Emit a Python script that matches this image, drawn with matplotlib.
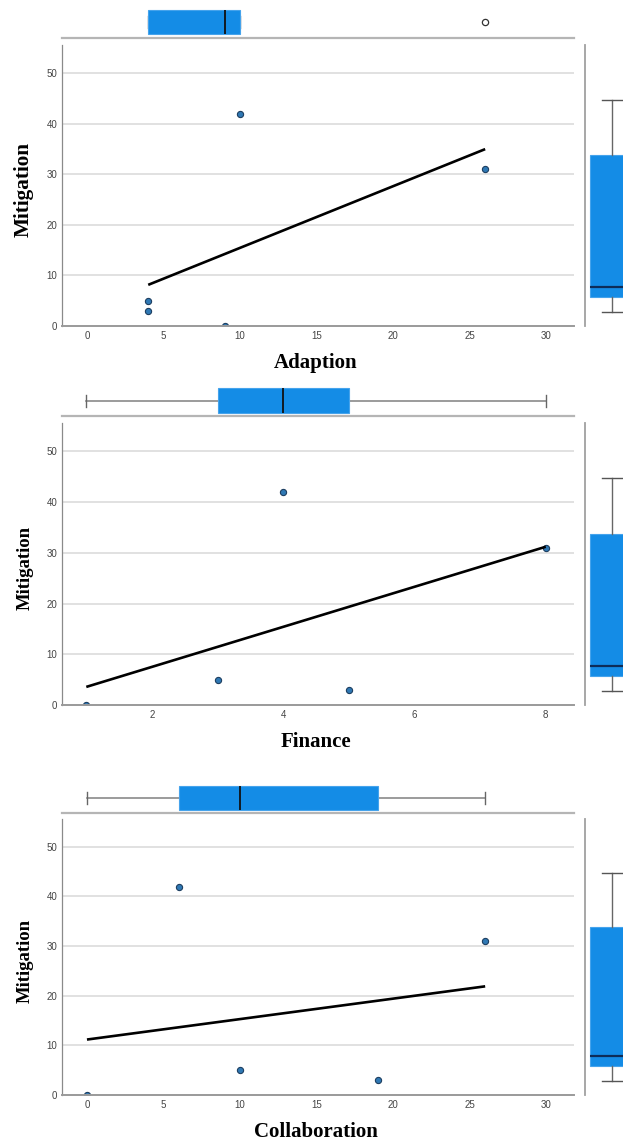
import numpy as np
import matplotlib
matplotlib.use("Agg")
import matplotlib.pyplot as plt

# ---- data (one row per observation) ----
mitigation = [0, 3, 5, 42, 31]
adaption = [9, 4, 4, 10, 26]
finance = [1, 5, 3, 4, 8]
collaboration = [0, 19, 10, 6, 26]

predictors = ["Adaption", "Finance", "Collaboration"]
predictor_values = [adaption, finance, collaboration]
x_ticks = [[0, 5, 10, 15, 20, 25, 30], [2, 4, 6, 8], [0, 5, 10, 15, 20, 25, 30]]
y_ticks = [0, 10, 20, 30, 40, 50]

# ---- layout (pixels) ----
W, H = 623, 1140
fig = plt.figure(figsize=(W / 100, H / 100), dpi=100)


def px_axes(left, top, right, bottom):
    return fig.add_axes([left / W, 1 - bottom / H, (right - left) / W, (bottom - top) / H])


panels = [
    dict(sc=(62, 45, 574, 326), top=(62, 7, 574, 37.5), right=(585, 45, 645, 326),
         xlim=(-1.63, 31.8), ylfs=15.3, boxh=24),
    dict(sc=(62, 423, 574, 705), top=(62, 385, 574, 416), right=(585, 423, 645, 705),
         xlim=(0.63, 8.43), ylfs=13.5, boxh=25),
    dict(sc=(62, 819, 574, 1095), top=(62, 782, 574, 813), right=(585, 819, 645, 1095),
         xlim=(-1.63, 31.8), ylfs=13.5, boxh=24),
]

BOX_BLUE = "#148ce6"
GRID = "#d9d9d9"
SPINE = "#9a9a9a"
serif = ["Liberation Serif", "DejaVu Serif"]
sans = ["Liberation Sans", "DejaVu Sans"]

for p, name, xv, xt in zip(panels, predictors, predictor_values, x_ticks):
    # scatter axes
    ax = px_axes(*p["sc"])
    ax.set_xlim(*p["xlim"])
    ax.set_ylim(0, 55.6)
    for y in y_ticks[1:]:
        ax.axhline(y, color=GRID, lw=1.1, zorder=0)
    ax.scatter(xv, mitigation, s=20, facecolor="#2f78b4", edgecolor="#1d3e60",
               linewidth=0.8, zorder=3)
    coef = np.polyfit(xv, mitigation, 1)
    xs = np.array([min(xv), max(xv)])
    ax.plot(xs, np.polyval(coef, xs), color="black", lw=1.9, zorder=4,
            solid_capstyle="butt")
    ax.set_xticks(xt)
    ax.set_yticks(y_ticks)
    ax.tick_params(length=0, labelsize=7, labelcolor="#444444", pad=3.5)
    for lab in ax.get_xticklabels() + ax.get_yticklabels():
        lab.set_family(sans)
    for s in ["top", "right"]:
        ax.spines[s].set_visible(False)
    ax.spines["left"].set_color("#8a8a8a")
    ax.spines["left"].set_linewidth(0.9)
    ax.spines["bottom"].set_color(SPINE)
    ax.spines["bottom"].set_linewidth(1.4)
    ax.spines["bottom"].set_zorder(5)
    h = p["sc"][3] - p["sc"][1]
    ax.set_xlabel(name, fontsize=15, fontweight="bold", family=serif, color="black")
    ax.xaxis.set_label_coords((316 - 62) / 512, -27 / h)
    ax.set_ylabel("Mitigation", fontsize=p["ylfs"], fontweight="bold", family=serif,
                  color="black")
    ax.yaxis.set_label_coords((34 - 62) / 512, 0.5 - 4 / h)

    # top box plot (predictor)
    axt = px_axes(*p["top"])
    th = p["top"][3] - p["top"][1]
    axt.set_xlim(*p["xlim"])
    axt.set_ylim(-th / 2, th / 2)
    axt.boxplot(xv, orientation="horizontal", positions=[0], widths=p["boxh"],
                capwidths=12, patch_artist=True,
                boxprops=dict(facecolor=BOX_BLUE, edgecolor="#45a3ec", linewidth=0.8),
                medianprops=dict(color="#111111", linewidth=1.3),
                whiskerprops=dict(color="#8a8a8a", linewidth=1.2, zorder=1),
                capprops=dict(color="#666666", linewidth=1.0, zorder=1),
                flierprops=dict(marker="o", markerfacecolor="white",
                                markeredgecolor="#333333", markersize=4.5,
                                markeredgewidth=0.9))
    axt.set_xticks([])
    axt.set_yticks([])
    for s in ["top", "right", "left"]:
        axt.spines[s].set_visible(False)
    axt.spines["bottom"].set_color("#b5b5b5")
    axt.spines["bottom"].set_linewidth(1.6)
    axt.patch.set_alpha(0)

    # right box plot (mitigation)
    axr = px_axes(*p["right"])
    axr.set_xlim(-27, 33)
    axr.set_ylim(-2.77, 52.8)
    axr.boxplot(mitigation, positions=[0], widths=44, capwidths=20, patch_artist=True,
                boxprops=dict(facecolor=BOX_BLUE, edgecolor="#45a3ec", linewidth=0.8),
                medianprops=dict(color="#0d2c58", linewidth=1.6),
                whiskerprops=dict(color="#666666", linewidth=1.0),
                capprops=dict(color="#555555", linewidth=1.0),
                showfliers=False)
    axr.set_xticks([])
    axr.set_yticks([])
    for s in ["top", "right", "bottom"]:
        axr.spines[s].set_visible(False)
    axr.spines["left"].set_color("#a0a0a0")
    axr.spines["left"].set_linewidth(1.3)
    axr.patch.set_alpha(0)

fig.savefig("out.png", dpi=100)
